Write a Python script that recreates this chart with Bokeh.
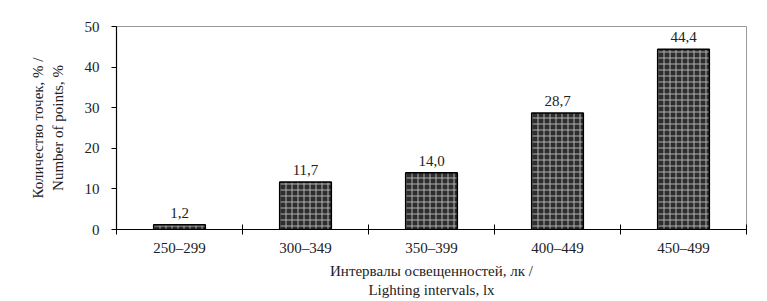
from bokeh.plotting import figure
from bokeh.models import ColumnDataSource, Range1d, FixedTicker, LabelSet
from bokeh.embed import file_html
from bokeh.resources import INLINE

categories = ["250–299", "300–349", "350–399", "400–449", "450–499"]
values = [1.2, 11.7, 14.0, 28.7, 44.4]
value_labels = ["1,2", "11,7", "14,0", "28,7", "44,4"]
y_ticks = [0, 10, 20, 30, 40, 50]

FONT = "'Liberation Serif', 'Times New Roman', serif"

xs = [i + 0.5 for i in range(len(categories))]
src = ColumnDataSource(data=dict(x=xs, top=values, lab=value_labels))

p = figure(width=767, height=301, output_backend="svg", toolbar_location=None,
           x_range=Range1d(0, len(categories)), y_range=Range1d(0, 50),
           min_border_left=116, min_border_right=21, min_border_top=26, min_border_bottom=72)

p.vbar(x="x", top="top", width=0.41, source=src, fill_color="#2e2e2e",
       line_color="black", line_width=1.5,
       hatch_pattern="+", hatch_color="#b0b0b0", hatch_scale=6, hatch_weight=1)

labels = LabelSet(x="x", y="top", text="lab", source=src, text_align="center",
                  text_baseline="bottom", y_offset=7, text_font=FONT,
                  text_font_size="15px", text_color="#222222")
p.add_layout(labels)

p.xgrid.visible = False
p.ygrid.visible = False
p.outline_line_color = "#999999"
p.outline_line_width = 1

xa = p.xaxis[0]
xa.ticker = FixedTicker(ticks=xs, minor_ticks=list(range(len(categories) + 1)))
xa.major_label_overrides = {x: c for x, c in zip(xs, categories)}
xa.major_tick_line_color = None
xa.minor_tick_in = 5
xa.minor_tick_out = 5
xa.minor_tick_line_color = "black"
xa.axis_line_color = "black"
xa.axis_line_width = 1.2
xa.major_label_text_font = FONT
xa.major_label_text_font_size = "15px"
xa.major_label_text_color = "#222222"
xa.major_label_standoff = 4
xa.axis_label = "Интервалы освещенностей, лк /\nLighting intervals, lx"
xa.axis_label_text_font = FONT
xa.axis_label_text_font_size = "15px"
xa.axis_label_text_font_style = "normal"
xa.axis_label_text_color = "#222222"
xa.axis_label_standoff = 4

ya = p.yaxis[0]
ya.ticker = FixedTicker(ticks=y_ticks, minor_ticks=[])
ya.major_tick_in = 0
ya.major_tick_out = 5
ya.major_tick_line_color = "black"
ya.axis_line_color = "black"
ya.axis_line_width = 1.2
ya.major_label_text_font = FONT
ya.major_label_text_font_size = "15px"
ya.major_label_text_color = "#222222"
ya.major_label_standoff = 12
ya.axis_label = "Количество точек, % /\nNumber of points, %"
ya.axis_label_text_font = FONT
ya.axis_label_text_font_size = "15px"
ya.axis_label_text_font_style = "normal"
ya.axis_label_text_color = "#222222"
ya.axis_label_standoff = 16

open("out.html", "w").write(file_html(p, INLINE))
